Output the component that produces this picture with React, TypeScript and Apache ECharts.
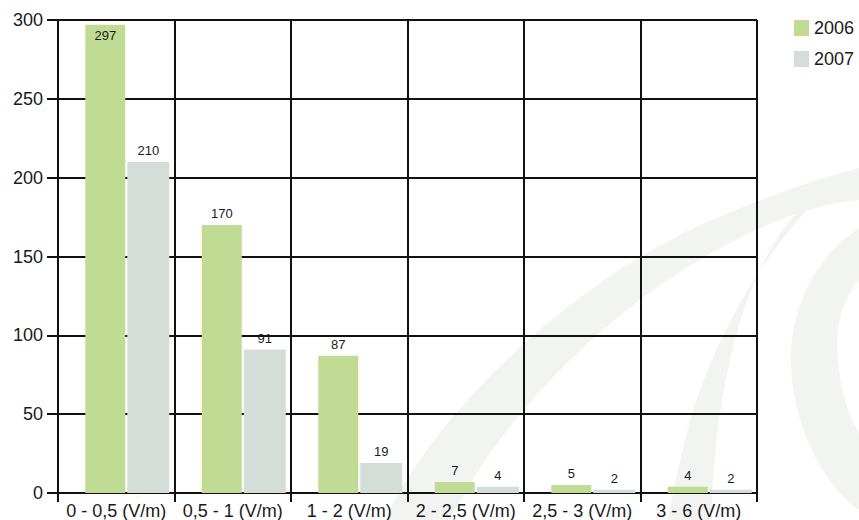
import React, { useEffect, useRef } from "react";
import * as echarts from "echarts";

// Field-strength classes on the x axis
const categories = [
  "0 - 0,5 (V/m)",
  "0,5 - 1 (V/m)",
  "1 - 2 (V/m)",
  "2 - 2,5 (V/m)",
  "2,5 - 3 (V/m)",
  "3 - 6 (V/m)",
];
const seriesNames = ["2006", "2007"];
const values2006 = [297, 170, 87, 7, 5, 4];
const values2007 = [210, 91, 19, 4, 2, 2];
// Empty spacer so that each bar pair sits right of the category centre
const spacer = [0, 0, 0, 0, 0, 0];
const yTicks = { min: 0, max: 300, interval: 50 };

const FONT = "'Liberation Sans', Arial, Helvetica, sans-serif";
const TEXT = "#1a1a1a";
const LINE = "#111111";
const GREEN = "#c0dc94";
const GREY = "#d4ddd7";
const WATERMARK = "#f2f4f2";

// Light decorative swoosh shapes in the background
const swooshBand =
  "M 385 520 C 430 420 560 290 700 225 C 760 198 820 178 859 168 L 859 200 C 800 205 720 240 640 300 C 560 360 490 440 450 520 Z";
const swooshSliver =
  "M 832 186 C 780 230 720 320 690 420 C 680 460 672 495 668 520 L 712 520 C 712 450 725 330 770 250 C 790 215 812 195 832 186 Z";
const swooshCrescent =
  "M 859 228 C 810 260 785 320 792 380 C 798 440 830 490 859 510 L 859 433 C 845 410 835 370 838 330 C 842 305 850 290 859 280 Z";

echarts.graphic.registerShape("swooshBand", echarts.graphic.extendPath(swooshBand, {}));
echarts.graphic.registerShape("swooshSliver", echarts.graphic.extendPath(swooshSliver, {}));
echarts.graphic.registerShape("swooshCrescent", echarts.graphic.extendPath(swooshCrescent, {}));

export default function App() {
  const ref = useRef<HTMLDivElement>(null);

  useEffect(() => {
    document.body.style.margin = "0";
    if (!ref.current) return;
    const chart = echarts.init(ref.current, null, { renderer: "svg" });

    const barLabel = {
      show: true,
      position: "top" as const,
      distance: 5,
      fontSize: 13,
      color: TEXT,
      fontFamily: FONT,
    };

    chart.setOption({
      animation: false,
      backgroundColor: "#ffffff",
      textStyle: { fontFamily: FONT },
      graphic: [
        { type: "swooshBand", x: 0, y: 0, z: -10, silent: true, style: { fill: WATERMARK } },
        { type: "swooshSliver", x: 0, y: 0, z: -10, silent: true, style: { fill: WATERMARK } },
        { type: "swooshCrescent", x: 0, y: 0, z: -10, silent: true, style: { fill: WATERMARK } },
      ],
      legend: {
        data: seriesNames,
        orient: "vertical",
        left: 789,
        top: 14,
        itemWidth: 15,
        itemHeight: 16,
        itemGap: 13,
        icon: "rect",
        textStyle: { fontSize: 18, color: TEXT, fontFamily: FONT },
      },
      grid: { left: 58, right: 102, top: 20, bottom: 26, containLabel: false },
      xAxis: {
        type: "category",
        data: categories,
        boundaryGap: true,
        axisLine: { show: true, lineStyle: { color: LINE, width: 2 } },
        axisTick: { show: true, length: 9, interval: 0, lineStyle: { color: LINE, width: 2 } },
        splitLine: { show: true, interval: 0, lineStyle: { color: LINE, width: 2 } },
        axisLabel: { fontSize: 18, color: TEXT, margin: 9, interval: 0, fontFamily: FONT },
      },
      yAxis: {
        type: "value",
        min: yTicks.min,
        max: yTicks.max,
        interval: yTicks.interval,
        axisLine: { show: true, lineStyle: { color: LINE, width: 2 } },
        axisTick: { show: true, length: 11, lineStyle: { color: LINE, width: 2 } },
        splitLine: { show: true, lineStyle: { color: LINE, width: 2 } },
        axisLabel: { fontSize: 18, color: TEXT, margin: 15, fontFamily: FONT },
      },
      series: [
        {
          name: "spacer",
          type: "bar",
          data: spacer,
          barWidth: 21,
          barGap: "5%",
          itemStyle: { color: "transparent" },
          silent: true,
        },
        {
          name: seriesNames[0],
          type: "bar",
          data: values2006.map((v) =>
            v > 290
              ? { value: v, label: { position: "insideTop", distance: 4 } }
              : v
          ),
          barWidth: 40,
          barGap: "5%",
          itemStyle: { color: GREEN },
          label: barLabel,
        },
        {
          name: seriesNames[1],
          type: "bar",
          data: values2007,
          barWidth: 42,
          barGap: "5%",
          itemStyle: { color: GREY },
          label: barLabel,
        },
      ],
    });

    return () => chart.dispose();
  }, []);

  return <div ref={ref} style={{ width: 859, height: 520 }} />;
}
